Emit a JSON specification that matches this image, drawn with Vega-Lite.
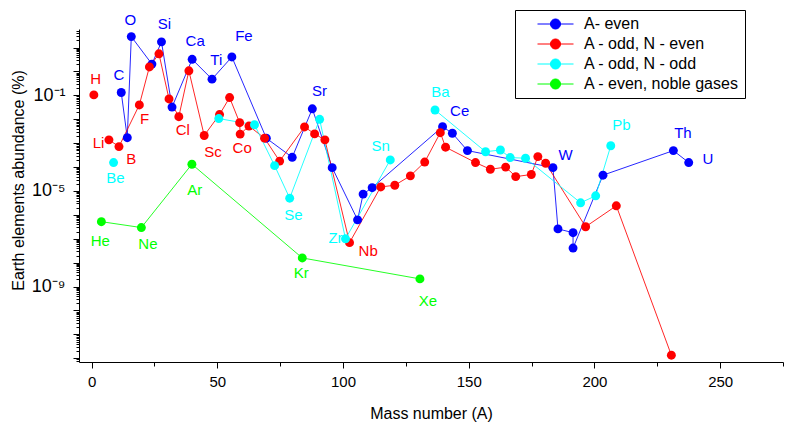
{
  "$schema": "https://vega.github.io/schema/vega-lite/v6.json",
  "width": 704,
  "height": 333,
  "autosize": {"type": "none"},
  "padding": {"left": 79, "top": 29, "right": 12, "bottom": 71},
  "config": {
    "font": "Liberation Sans",
    "view": {"stroke": null},
    "axis": {"grid": false, "domainColor": "black", "tickColor": "black", "labelColor": "black", "titleColor": "black", "titleFontWeight": "normal", "domainWidth": 1, "tickWidth": 1}
  },
  "datasets": {
    "pts": [
      {"s": "A- even", "g": "b", "o": 1, "A": 11.8, "v": 0.132},
      {"s": "A- even", "g": "b", "o": 2, "A": 14.2, "v": 0.0017},
      {"s": "A- even", "g": "b", "o": 3, "A": 15.8, "v": 28.8},
      {"s": "A- even", "g": "b", "o": 4, "A": 24, "v": 2.04},
      {"s": "A- even", "g": "b", "o": 5, "A": 27.8, "v": 17.4},
      {"s": "A- even", "g": "b", "o": 6, "A": 32, "v": 0.0324},
      {"s": "A- even", "g": "b", "o": 7, "A": 40, "v": 3.24},
      {"s": "A- even", "g": "b", "o": 8, "A": 47.9, "v": 0.479},
      {"s": "A- even", "g": "b", "o": 9, "A": 55.8, "v": 4.07},
      {"s": "A- even", "g": "b", "o": 10, "A": 69.5, "v": 0.00162},
      {"s": "A- even", "g": "b", "o": 11, "A": 79.8, "v": 0.000257},
      {"s": "A- even", "g": "b", "o": 12, "A": 87.8, "v": 0.0275},
      {"s": "A- even", "g": "b", "o": 13, "A": 95.7, "v": 0.000095},
      {"s": "A- even", "g": "b", "o": 14, "A": 105.8, "v": 6.2e-7},
      {"s": "A- even", "g": "b", "o": 15, "A": 108, "v": 7.4e-6},
      {"s": "A- even", "g": "b", "o": 16, "A": 111.6, "v": 1.38e-5},
      {"s": "A- even", "g": "b", "o": 17, "A": 139.6, "v": 0.0049},
      {"s": "A- even", "g": "b", "o": 18, "A": 143.5, "v": 0.0026},
      {"s": "A- even", "g": "b", "o": 19, "A": 149.5, "v": 0.00049},
      {"s": "A- even", "g": "b", "o": 20, "A": 183.5, "v": 9.5e-5},
      {"s": "A- even", "g": "b", "o": 21, "A": 185.5, "v": 2.6e-7},
      {"s": "A- even", "g": "b", "o": 22, "A": 191.5, "v": 1.8e-7},
      {"s": "A- even", "g": "b", "o": 23, "A": 191.5, "v": 4.1e-8},
      {"s": "A- even", "g": "b", "o": 24, "A": 203.4, "v": 4.6e-5},
      {"s": "A- even", "g": "b", "o": 25, "A": 231.4, "v": 0.00049},
      {"s": "A- even", "g": "b", "o": 26, "A": 237.5, "v": 0.000155},

      {"s": "A - odd, N - even", "g": "r0", "o": 27, "A": 0.9, "v": 0.105},
      {"s": "A - odd, N - even", "g": "r1", "o": 28, "A": 6.9, "v": 0.00138},
      {"s": "A - odd, N - even", "g": "r1", "o": 29, "A": 10.9, "v": 0.00072},
      {"s": "A - odd, N - even", "g": "r1", "o": 30, "A": 19, "v": 0.04},
      {"s": "A - odd, N - even", "g": "r1", "o": 31, "A": 23, "v": 1.55},
      {"s": "A - odd, N - even", "g": "r1", "o": 32, "A": 26.8, "v": 5.5},
      {"s": "A - odd, N - even", "g": "r1", "o": 33, "A": 30.8, "v": 0.071},
      {"s": "A - odd, N - even", "g": "r1", "o": 34, "A": 34.7, "v": 0.0129},
      {"s": "A - odd, N - even", "g": "r1", "o": 35, "A": 38.7, "v": 1.07},
      {"s": "A - odd, N - even", "g": "r1", "o": 36, "A": 44.8, "v": 0.0021},
      {"s": "A - odd, N - even", "g": "r1", "o": 37, "A": 50.9, "v": 0.0158},
      {"s": "A - odd, N - even", "g": "r1", "o": 38, "A": 54.9, "v": 0.081},
      {"s": "A - odd, N - even", "g": "r1", "o": 39, "A": 58.9, "v": 0.0072},
      {"s": "A - odd, N - even", "g": "r1", "o": 40, "A": 59.1, "v": 0.0024},
      {"s": "A - odd, N - even", "g": "r1", "o": 41, "A": 62.6, "v": 0.0052},
      {"s": "A - odd, N - even", "g": "r1", "o": 42, "A": 68.8, "v": 0.00162},
      {"s": "A - odd, N - even", "g": "r1", "o": 43, "A": 74.8, "v": 0.000178},
      {"s": "A - odd, N - even", "g": "r1", "o": 44, "A": 84.7, "v": 0.0048},
      {"s": "A - odd, N - even", "g": "r1", "o": 45, "A": 88.7, "v": 0.00245},
      {"s": "A - odd, N - even", "g": "r1", "o": 46, "A": 92.8, "v": 0.00138},
      {"s": "A - odd, N - even", "g": "r1", "o": 47, "A": 102.6, "v": 6.9e-8},
      {"s": "A - odd, N - even", "g": "r1", "o": 48, "A": 115, "v": 1.48e-5},
      {"s": "A - odd, N - even", "g": "r1", "o": 49, "A": 120.6, "v": 1.74e-5},
      {"s": "A - odd, N - even", "g": "r1", "o": 50, "A": 126.8, "v": 4.3e-5},
      {"s": "A - odd, N - even", "g": "r1", "o": 51, "A": 132.5, "v": 0.000162},
      {"s": "A - odd, N - even", "g": "r1", "o": 52, "A": 138.7, "v": 0.00275},
      {"s": "A - odd, N - even", "g": "r1", "o": 53, "A": 140.8, "v": 0.00068},
      {"s": "A - odd, N - even", "g": "r1", "o": 54, "A": 152.7, "v": 0.000155},
      {"s": "A - odd, N - even", "g": "r1", "o": 55, "A": 158.6, "v": 8.1e-5},
      {"s": "A - odd, N - even", "g": "r1", "o": 56, "A": 164.7, "v": 0.0001},
      {"s": "A - odd, N - even", "g": "r1", "o": 57, "A": 168.7, "v": 4.0e-5},
      {"s": "A - odd, N - even", "g": "r1", "o": 58, "A": 174.9, "v": 4.9e-5},
      {"s": "A - odd, N - even", "g": "r1", "o": 59, "A": 177.5, "v": 0.000275},
      {"s": "A - odd, N - even", "g": "r1", "o": 60, "A": 180.6, "v": 0.000145},
      {"s": "A - odd, N - even", "g": "r1", "o": 61, "A": 196.5, "v": 3.2e-7},
      {"s": "A - odd, N - even", "g": "r1", "o": 62, "A": 208.7, "v": 2.4e-6},
      {"s": "A - odd, N - even", "g": "r1", "o": 63, "A": 230.6, "v": 1.35e-12},

      {"s": "A - odd, N - odd", "g": "c0", "o": 64, "A": 8.75, "v": 0.000155},
      {"s": "A - odd, N - odd", "g": "c1", "o": 65, "A": 50.6, "v": 0.0107},
      {"s": "A - odd, N - odd", "g": "c1", "o": 66, "A": 64.8, "v": 0.0059},
      {"s": "A - odd, N - odd", "g": "c1", "o": 67, "A": 72.8, "v": 0.000115},
      {"s": "A - odd, N - odd", "g": "c1", "o": 68, "A": 78.8, "v": 5.0e-6},
      {"s": "A - odd, N - odd", "g": "c1", "o": 69, "A": 90.7, "v": 0.01},
      {"s": "A - odd, N - odd", "g": "c1", "o": 70, "A": 101, "v": 1.0e-7},
      {"s": "A - odd, N - odd", "g": "c1", "o": 71, "A": 118.8, "v": 0.0002},
      {"s": "A - odd, N - odd", "g": "c2", "o": 72, "A": 136.6, "v": 0.0245},
      {"s": "A - odd, N - odd", "g": "c2", "o": 73, "A": 156.7, "v": 0.00044},
      {"s": "A - odd, N - odd", "g": "c2", "o": 74, "A": 162.6, "v": 0.00052},
      {"s": "A - odd, N - odd", "g": "c2", "o": 75, "A": 166.5, "v": 0.00025},
      {"s": "A - odd, N - odd", "g": "c2", "o": 76, "A": 172.6, "v": 0.000235},
      {"s": "A - odd, N - odd", "g": "c2", "o": 77, "A": 194.5, "v": 3.2e-6},
      {"s": "A - odd, N - odd", "g": "c2", "o": 78, "A": 200.5, "v": 6.3e-6},
      {"s": "A - odd, N - odd", "g": "c2", "o": 79, "A": 206.5, "v": 0.00078},

      {"s": "A - even, noble gases", "g": "n", "o": 80, "A": 3.9, "v": 5.2e-7},
      {"s": "A - even, noble gases", "g": "n", "o": 81, "A": 19.8, "v": 2.95e-7},
      {"s": "A - even, noble gases", "g": "n", "o": 82, "A": 39.9, "v": 0.000132},
      {"s": "A - even, noble gases", "g": "n", "o": 83, "A": 83.8, "v": 1.58e-8},
      {"s": "A - even, noble gases", "g": "n", "o": 84, "A": 130.6, "v": 2.1e-9}
    ],
    "labs": [
      {"s": "A - odd, N - even", "lab": "H", "A": 1.6, "v": 0.49},
      {"s": "A- even", "lab": "C", "A": 10.9, "v": 0.72},
      {"s": "A- even", "lab": "O", "A": 15.4, "v": 145},
      {"s": "A- even", "lab": "Si", "A": 29, "v": 98},
      {"s": "A- even", "lab": "Ca", "A": 41.2, "v": 19.5},
      {"s": "A- even", "lab": "Ti", "A": 49.6, "v": 3.1},
      {"s": "A- even", "lab": "Fe", "A": 60.6, "v": 31},
      {"s": "A - odd, N - even", "lab": "F", "A": 21.1, "v": 0.01},
      {"s": "A - odd, N - even", "lab": "Li", "A": 2.8, "v": 0.001},
      {"s": "A - odd, N - even", "lab": "B", "A": 15.8, "v": 0.00022},
      {"s": "A - odd, N - odd", "lab": "Be", "A": 9.5, "v": 3.5e-5},
      {"s": "A - odd, N - even", "lab": "Cl", "A": 36.3, "v": 0.0034},
      {"s": "A - odd, N - even", "lab": "Sc", "A": 48.3, "v": 0.00042},
      {"s": "A - odd, N - even", "lab": "Co", "A": 59.9, "v": 0.00066},
      {"s": "A - even, noble gases", "lab": "Ar", "A": 41, "v": 1.12e-5},
      {"s": "A- even", "lab": "Sr", "A": 90.7, "v": 0.158},
      {"s": "A - odd, N - odd", "lab": "Se", "A": 80.3, "v": 9.8e-7},
      {"s": "A - odd, N - odd", "lab": "Zr", "A": 97, "v": 1.07e-7},
      {"s": "A - odd, N - even", "lab": "Nb", "A": 110, "v": 3.2e-8},
      {"s": "A - odd, N - odd", "lab": "Sn", "A": 115, "v": 0.00078},
      {"s": "A - odd, N - odd", "lab": "Ba", "A": 138.7, "v": 0.135},
      {"s": "A- even", "lab": "Ce", "A": 146.4, "v": 0.023},
      {"s": "A - even, noble gases", "lab": "Kr", "A": 83.4, "v": 3.6e-9},
      {"s": "A - even, noble gases", "lab": "Xe", "A": 133.8, "v": 2.6e-10},
      {"s": "A - even, noble gases", "lab": "He", "A": 3.5, "v": 8.3e-8},
      {"s": "A - even, noble gases", "lab": "Ne", "A": 22.4, "v": 6.2e-8},
      {"s": "A- even", "lab": "W", "A": 188.5, "v": 0.00032},
      {"s": "A - odd, N - odd", "lab": "Pb", "A": 210.7, "v": 0.0059},
      {"s": "A- even", "lab": "Th", "A": 235.2, "v": 0.00275},
      {"s": "A- even", "lab": "U", "A": 245.1, "v": 0.00021}
    ]
  },
  "encoding": {
    "x": {
      "field": "A", "type": "quantitative",
      "scale": {"domain": [-5, 275], "nice": false, "zero": false},
      "axis": {
        "title": "Mass number (A)",
        "values": [0, 25, 50, 75, 100, 125, 150, 175, 200, 225, 250, 275],
        "labelExpr": "datum.value % 50 == 0 ? datum.label : ''",
        "labelFontSize": 15, "labelPadding": 6, "labelOverlap": false, "labelFlush": false,
        "tickSize": {"condition": {"test": "datum.value % 50 == 0", "value": 6}, "value": 4},
        "titleFontSize": 16, "titleY": 51, "titleBaseline": "middle"
      }
    },
    "y": {
      "field": "v", "type": "quantitative",
      "scale": {"type": "log", "domain": [7e-13, 60], "nice": false},
      "axis": {
        "title": "Earth elements abundance (%)",
        "values": [8e-13, 9e-13,
          1e-12, 2e-12, 3e-12, 4e-12, 5e-12, 6e-12, 7e-12, 8e-12, 9e-12,
          1e-11, 2e-11, 3e-11, 4e-11, 5e-11, 6e-11, 7e-11, 8e-11, 9e-11,
          1e-10, 2e-10, 3e-10, 4e-10, 5e-10, 6e-10, 7e-10, 8e-10, 9e-10,
          1e-9, 2e-9, 3e-9, 4e-9, 5e-9, 6e-9, 7e-9, 8e-9, 9e-9,
          1e-8, 2e-8, 3e-8, 4e-8, 5e-8, 6e-8, 7e-8, 8e-8, 9e-8,
          1e-7, 2e-7, 3e-7, 4e-7, 5e-7, 6e-7, 7e-7, 8e-7, 9e-7,
          1e-6, 2e-6, 3e-6, 4e-6, 5e-6, 6e-6, 7e-6, 8e-6, 9e-6,
          1e-5, 2e-5, 3e-5, 4e-5, 5e-5, 6e-5, 7e-5, 8e-5, 9e-5,
          1e-4, 2e-4, 3e-4, 4e-4, 5e-4, 6e-4, 7e-4, 8e-4, 9e-4,
          1e-3, 2e-3, 3e-3, 4e-3, 5e-3, 6e-3, 7e-3, 8e-3, 9e-3,
          0.01, 0.02, 0.03, 0.04, 0.05, 0.06, 0.07, 0.08, 0.09,
          0.1, 0.2, 0.3, 0.4, 0.5, 0.6, 0.7, 0.8, 0.9,
          1, 2, 3, 4, 5, 6, 7, 8, 9, 10, 20, 30, 40, 50],
        "labelExpr": "abs(log(datum.value)/LN10 + 1) < 1e-6 ? '10⁻¹' : abs(log(datum.value)/LN10 + 5) < 1e-6 ? '10⁻⁵' : abs(log(datum.value)/LN10 + 9) < 1e-6 ? '10⁻⁹' : ''",
        "labelFontSize": 18, "labelPadding": 8, "labelOverlap": false, "labelFlush": false,
        "tickSize": {"condition": {"test": "abs(log(datum.value)/LN10 - round(log(datum.value)/LN10)) < 1e-6", "value": 6}, "value": 3},
        "titleFontSize": 16, "titleX": -61, "titleY": 151, "titleBaseline": "middle", "titleAlign": "center", "titleAngle": -90
      }
    },
    "color": {
      "field": "s", "type": "nominal",
      "scale": {"domain": ["A- even", "A - odd, N - even", "A - odd, N - odd", "A - even, noble gases"], "range": ["#0000ff", "#ff0000", "#00ffff", "#00ff00"]},
      "legend": {
        "title": null, "orient": "none", "legendX": 436, "legendY": -19,
        "fillColor": "white", "strokeColor": "black", "padding": 6,
        "symbolType": "M-1,0L1,0M0.28,0A0.28,0.28,0,1,1,-0.28,0A0.28,0.28,0,1,1,0.28,0Z",
        "symbolSize": 1296, "symbolStrokeWidth": 1, "clipHeight": 16, "rowPadding": 4,
        "symbolOffset": 16, "labelOffset": 10,
        "labelFontSize": 16, "labelColor": "black", "labelLimit": 300,
        "encode": {"symbols": {"update": {"fill": {"scale": "color", "field": "value"}, "stroke": {"scale": "color", "field": "value"}, "opacity": {"value": 1}, "strokeWidth": {"value": 1}}}}
      }
    }
  },
  "layer": [
    {
      "data": {"name": "pts"},
      "mark": {"type": "line", "strokeWidth": 1, "opacity": 0.85},
      "encoding": {"detail": {"field": "g"}, "order": {"field": "o", "type": "quantitative"}}
    },
    {
      "data": {"name": "pts"},
      "mark": {"type": "point", "filled": true, "size": 80, "opacity": 1}
    },
    {
      "data": {"name": "labs"},
      "mark": {"type": "text", "fontSize": 15, "align": "center", "baseline": "middle"},
      "encoding": {"text": {"field": "lab"}}
    }
  ]
}
